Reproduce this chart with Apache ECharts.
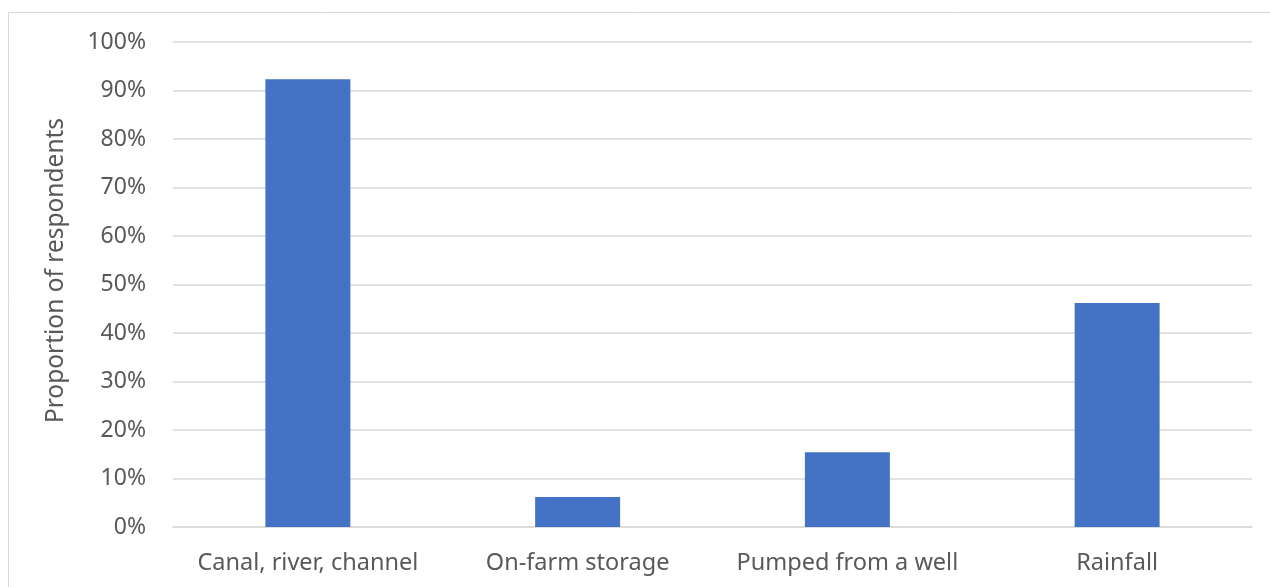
<!DOCTYPE html>
<html>
<head>
<meta charset="utf-8">
<script src="https://cdn.jsdelivr.net/npm/echarts@6/dist/echarts.min.js"></script>
<style>
  html, body { margin: 0; padding: 0; background: #ffffff; }
  #chart { width: 1270px; height: 587px; }
</style>
</head>
<body>
<div id="chart"></div>
<script>
// Water sources used by respondents (share of respondents)
const categories = ['Canal, river, channel', 'On-farm storage', 'Pumped from a well', 'Rainfall'];
const shares = [0.923, 0.062, 0.154, 0.462];
const yTicks = [0, 0.1, 0.2, 0.3, 0.4, 0.5, 0.6, 0.7, 0.8, 0.9, 1.0];

const FONT = '"Noto Sans", "Open Sans", sans-serif';
const TEXT = '#595959';
const GRID = '#d9d9d9';

const chart = echarts.init(document.getElementById('chart'), null, { renderer: 'canvas' });
chart.setOption({
  animation: false,
  backgroundColor: '#ffffff',
  graphic: [{
    type: 'rect',
    shape: { x: 8.5, y: 12.5, width: 1300, height: 620 },
    style: { fill: 'none', stroke: GRID, lineWidth: 1 },
    silent: true,
    z: -10
  }],
  grid: { left: 173, right: 18, top: 42, bottom: 60, containLabel: false },
  xAxis: {
    type: 'category',
    data: categories,
    axisLine: { show: true, lineStyle: { color: GRID, width: 1.5 } },
    axisTick: { show: false },
    axisLabel: { color: TEXT, fontFamily: FONT, fontSize: 23.5, margin: 24, interval: 0 }
  },
  yAxis: {
    type: 'value',
    min: yTicks[0],
    max: yTicks[yTicks.length - 1],
    interval: 0.1,
    name: 'Proportion of respondents',
    nameLocation: 'middle',
    nameGap: 104,
    nameRotate: 90,
    nameTextStyle: { color: TEXT, fontFamily: FONT, fontSize: 24.5, padding: [0, 0, 0, 28] },
    axisLine: { show: false },
    axisTick: { show: false },
    splitLine: { lineStyle: { color: GRID, width: 1.5 } },
    axisLabel: {
      color: TEXT, fontFamily: FONT, fontSize: 23, margin: 27,
      formatter: v => Math.round(v * 100) + '%'
    }
  },
  series: [{
    type: 'bar',
    data: shares,
    barWidth: '31.5%',
    itemStyle: { color: '#4472C4' }
  }]
});
</script>
</body>
</html>
